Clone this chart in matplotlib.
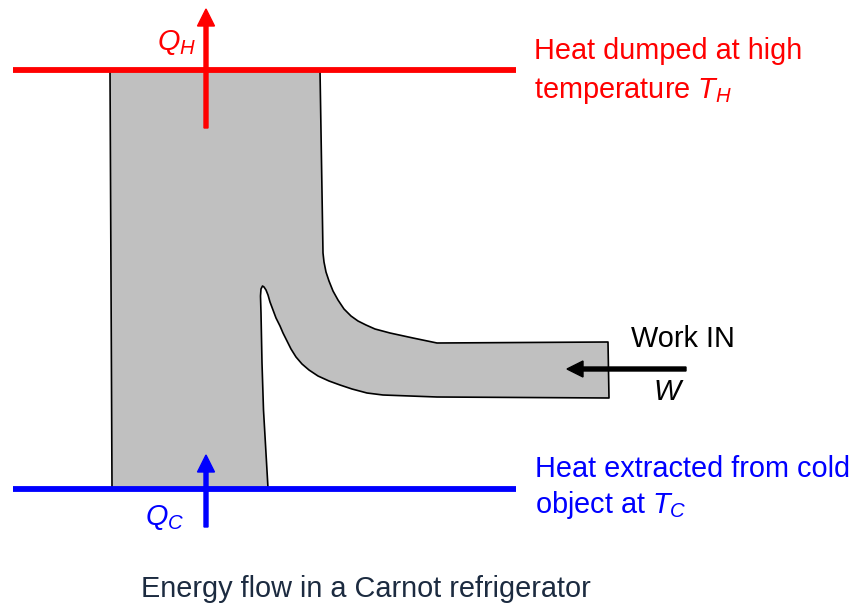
import matplotlib.pyplot as plt
from matplotlib.patches import Polygon

plt.rcParams['font.family'] = ['Liberation Sans', 'DejaVu Sans']
plt.rcParams['mathtext.fontset'] = 'custom'
plt.rcParams['mathtext.rm'] = 'Liberation Sans'
plt.rcParams['mathtext.it'] = 'Liberation Sans:italic'

# outline of the energy-flow band (pixel coords, y down)
band_x = [110, 112, 268, 263.5, 262, 261, 260.5, 261, 262.5, 264, 266, 268, 270, 273,
          276, 280, 283, 287, 291, 296, 302, 309, 318, 329, 340, 352, 367, 383, 437,
          609, 608, 437, 413, 390, 375, 366, 358, 351, 344, 338, 333, 329, 326, 324,
          323, 320]
band_y = [70, 488, 488, 410, 363, 313, 296, 289, 286, 287, 290, 295, 302, 310,
          318, 326, 333, 341, 349, 357, 364, 370, 376, 381, 385, 389, 393, 395, 397,
          398, 342, 343, 338, 333, 329, 325, 321, 316, 309, 300, 291, 281, 272, 262,
          253, 70]

hot_y, cold_y = 70, 489
rail_x = (13, 516)
caption = 'Energy flow in a Carnot refrigerator'

fig = plt.figure(figsize=(8.59, 6.05), dpi=100)
ax = fig.add_axes([0, 0, 1, 1])
ax.set_xlim(0, 859)
ax.set_ylim(605, 0)
ax.axis('off')

ax.add_patch(Polygon(list(zip(band_x, band_y)), closed=True, joinstyle='round',
                     facecolor='#c0c0c0', edgecolor='black', lw=1.2, zorder=1))

ax.plot(rail_x, [hot_y, hot_y], color='#ff0000', lw=4.2, solid_capstyle='butt', zorder=2)
ax.plot(rail_x, [cold_y, cold_y], color='#0000ff', lw=4.2, solid_capstyle='butt', zorder=2)

# arrows
ax.arrow(206, 128, 0, -119, width=4, head_width=17, head_length=17,
         length_includes_head=True, color='#ff0000', zorder=3)
ax.arrow(206, 527, 0, -72, width=4, head_width=17, head_length=17,
         length_includes_head=True, color='#0000ff', zorder=3)
ax.arrow(686, 369, -119, 0, width=4, head_width=16, head_length=16,
         length_includes_head=True, color='black', zorder=3)

fs = 20.8
ax.text(157, 50, '$Q_H$', color='#ff0000', fontsize=fs, va='baseline')
ax.text(145, 525, '$Q_C$', color='#0000ff', fontsize=fs, va='baseline')
ax.text(534, 59, 'Heat dumped at high', color='#ff0000', fontsize=fs, va='baseline')
ax.text(534, 98, 'temperature $T_H$', color='#ff0000', fontsize=fs, va='baseline')
ax.text(535, 477, 'Heat extracted from cold', color='#0000ff', fontsize=fs, va='baseline')
ax.text(535, 513, 'object at $T_C$', color='#0000ff', fontsize=fs, va='baseline')
ax.text(631, 347, 'Work IN', color='black', fontsize=fs, va='baseline')
ax.text(653, 400, '$W$', color='black', fontsize=fs, va='baseline')
ax.text(141, 597, caption, color='#1c2b40', fontsize=fs, va='baseline')

fig.savefig('out.png', dpi=100)
